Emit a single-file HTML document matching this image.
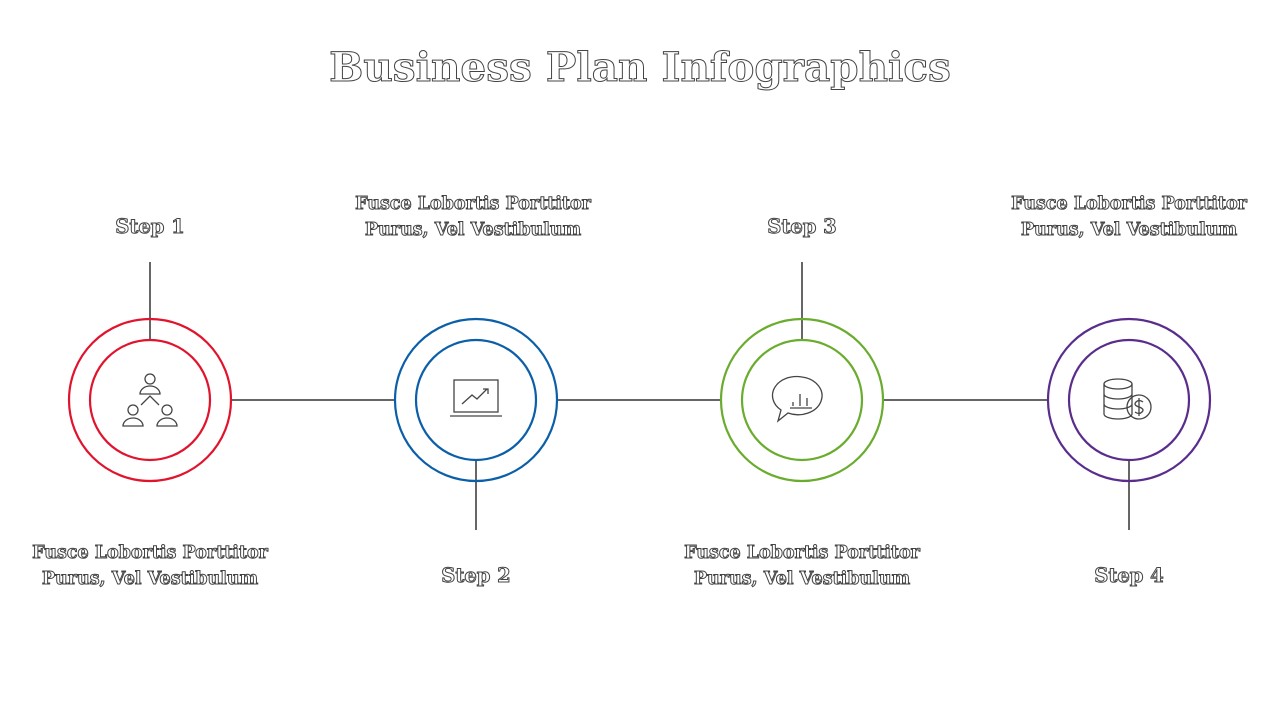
<!DOCTYPE html>
<html><head><meta charset="utf-8"><style>
body{margin:0;width:1280px;height:720px;background:#fff;overflow:hidden;position:relative;font-family:"DejaVu Serif","Liberation Serif",serif}
.t{position:absolute;color:#fff;-webkit-text-stroke:1px #444;text-align:center;white-space:nowrap}
.title{left:0;width:1280px;top:43px;font-size:40.5px;font-weight:bold}
.s{font-size:19.5px;font-weight:bold;width:240px}
.d{font-size:17.5px;line-height:26px;width:320px;font-weight:bold}
svg{position:absolute;left:0;top:0}
</style></head><body>
<svg width="1280" height="720" fill="none">
<g stroke="#666" stroke-width="2">
<line x1="231" y1="400" x2="395" y2="400"/><line x1="557" y1="400" x2="721" y2="400"/><line x1="883" y1="400" x2="1048" y2="400"/>
<line x1="150" y1="262" x2="150" y2="340"/><line x1="476" y1="460" x2="476" y2="530"/>
<line x1="802" y1="262" x2="802" y2="340"/><line x1="1129" y1="460" x2="1129" y2="530"/>
</g>
<g stroke-width="2.2">
<circle cx="150" cy="400" r="81" stroke="#e0142d"/><circle cx="150" cy="400" r="60" stroke="#e0142d"/>
<circle cx="476" cy="400" r="81" stroke="#0b5fa8"/><circle cx="476" cy="400" r="60" stroke="#0b5fa8"/>
<circle cx="802" cy="400" r="81" stroke="#6aac2d"/><circle cx="802" cy="400" r="60" stroke="#6aac2d"/>
<circle cx="1129" cy="400" r="81" stroke="#5a2d8c"/><circle cx="1129" cy="400" r="60" stroke="#5a2d8c"/>
</g>
<g stroke="#444" stroke-width="1.3">
<circle cx="150" cy="379" r="5"/><path d="M140 394a10 8 0 0 1 20 0z"/>
<circle cx="133" cy="410" r="5"/><path d="M123 426a10 8 0 0 1 20 0z"/>
<circle cx="167" cy="410" r="5"/><path d="M157 426a10 8 0 0 1 20 0z"/>
<path d="M141 405l9-9 9 9"/>
<rect x="454" y="380" width="44" height="32"/><path d="M450 416h52M462 404l10-9 5 4 10-10M483 389h5v5"/>
<path d="M802 377a24 19 0 1 1 -14 36l-10 8 3-11a24 19 0 0 1 21-33z"/><path d="M793 406v-4M800 406v-12M807 406v-8M790 408h22"/>
<ellipse cx="1118" cy="384" rx="14" ry="5"/><path d="M1104 384v30a14 5 0 0 0 28 0v-30M1104 394a14 5 0 0 0 28 0M1104 404a14 5 0 0 0 28 0"/>
<circle cx="1139" cy="407" r="12"/><path d="M1143 402q-4-3-7 0t3 5 3 5-7 0M1139 398v18"/>
</g>
</svg>
<div class="t title">Business Plan Infographics</div>
<div class="t s" style="left:30px;top:215px">Step 1</div>
<div class="t s" style="left:356px;top:564px">Step 2</div>
<div class="t s" style="left:682px;top:215px">Step 3</div>
<div class="t s" style="left:1009px;top:564px">Step 4</div>
<div class="t d" style="left:-10px;top:540px">Fusce Lobortis Porttitor<br>Purus, Vel Vestibulum</div>
<div class="t d" style="left:313px;top:191px">Fusce Lobortis Porttitor<br>Purus, Vel Vestibulum</div>
<div class="t d" style="left:642px;top:540px">Fusce Lobortis Porttitor<br>Purus, Vel Vestibulum</div>
<div class="t d" style="left:969px;top:191px">Fusce Lobortis Porttitor<br>Purus, Vel Vestibulum</div>
</body></html>
